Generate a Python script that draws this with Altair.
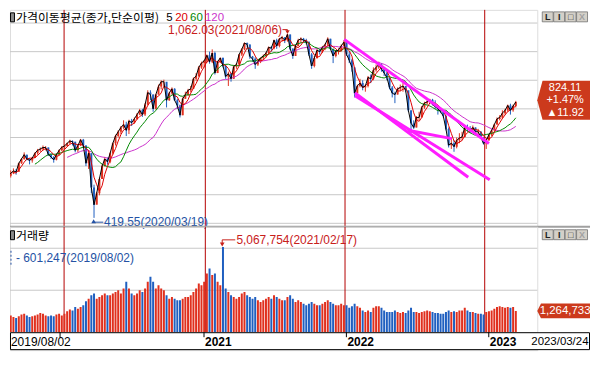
import altair as alt
import pandas as pd

# ---------------- data (weekly) ----------------
first_open = 600
close_2019 = [585, 566, 575, 583, 580, 610, 625, 640, 625, 620, 628, 645, 655, 660, 665, 665, 640, 632, 622, 640, 655, 666]
high_2019 = [595, 590, 585, 592, 590, 612, 628, 648, 640, 628, 632, 648, 660, 665, 672, 670, 665, 645, 635, 645, 658, 670]
low_2019 = [560, 540, 560, 572, 570, 580, 608, 622, 620, 606, 612, 628, 640, 650, 655, 655, 636, 625, 612, 620, 638, 652]

close_2020 = [670, 680, 688, 685, 655, 672, 692, 672, 610, 645, 525, 465, 505, 555, 600, 625, 615,
              645, 680, 705, 720, 735, 745, 725, 758, 752, 765, 780, 795, 780, 815, 857, 850, 800, 850,
              878, 895, 895, 830, 855, 870, 830, 812, 778, 835, 850, 865, 870, 905, 915, 945, 960]
high_2020 = [675, 682, 692, 690, 685, 675, 695, 695, 672, 655, 645, 535, 510, 560, 605, 632, 630,
             648, 682, 710, 725, 740, 760, 755, 762, 765, 770, 785, 800, 800, 820, 865, 865, 850, 852,
             885, 900, 902, 890, 860, 875, 872, 835, 815, 840, 860, 870, 880, 910, 925, 950, 965]
low_2020 = [660, 668, 678, 672, 648, 648, 670, 665, 600, 590, 505, 419, 468, 498, 555, 598, 605,
            610, 640, 672, 700, 712, 730, 705, 712, 740, 748, 762, 778, 772, 775, 812, 830, 790, 798,
            850, 868, 880, 805, 828, 850, 828, 800, 770, 778, 835, 845, 858, 870, 898, 912, 940]

close_2021 = [968, 987, 965, 995, 925, 965, 978, 950, 913, 923, 905, 948, 955, 990, 1008, 1030, 1025, 983,
              975, 955, 965, 978, 985, 995, 1015, 1012, 1040, 1020, 1045, 1050, 1040, 1060, 1010, 985, 1020,
              1040, 1045, 1040, 1035, 990, 950, 978, 1005, 1000, 1015, 1025, 1045, 1010, 985, 1002, 1005, 1020, 1033]
high_2021 = [970, 990, 1000, 1008, 1000, 968, 980, 980, 955, 930, 925, 952, 960, 992, 1012, 1032, 1032, 1025,
             985, 980, 970, 980, 990, 998, 1018, 1020, 1042, 1045, 1048, 1055, 1050, 1062, 1060, 1012, 1022,
             1045, 1050, 1048, 1045, 1035, 995, 985, 1010, 1010, 1020, 1028, 1050, 1045, 1010, 1005, 1012, 1025, 1040]
low_2021 = [945, 960, 958, 960, 920, 925, 960, 945, 905, 880, 895, 905, 940, 955, 985, 1005, 1015, 975,
            965, 940, 950, 960, 970, 980, 990, 1000, 1008, 1010, 1015, 1035, 1030, 1035, 1005, 975, 985,
            1018, 1030, 1032, 1025, 985, 940, 945, 975, 990, 995, 1005, 1020, 1005, 960, 980, 990, 1000, 1018]

close_2022 = [990, 970, 945, 855, 880, 890, 875, 880, 910, 905, 935, 945, 955, 940, 925, 910, 875,
              855, 850, 870, 875, 880, 865, 795, 750, 735, 770, 770, 805, 820, 825, 832, 815, 808,
              800, 790, 775, 730, 673, 680, 668, 690, 698, 702, 735, 732, 725, 735, 720, 720, 700, 679]
high_2022 = [1040, 1000, 975, 945, 885, 905, 900, 885, 915, 920, 945, 955, 965, 960, 945, 930, 905,
             880, 860, 875, 885, 890, 880, 860, 760, 760, 775, 790, 810, 825, 830, 835, 835, 830,
             808, 805, 795, 778, 735, 700, 690, 700, 715, 720, 740, 745, 740, 742, 735, 730, 722, 700]
low_2022 = [985, 960, 930, 840, 855, 875, 865, 860, 875, 890, 900, 930, 940, 930, 915, 900, 868,
            840, 820, 850, 862, 860, 858, 790, 715, 730, 735, 760, 780, 800, 815, 820, 812, 800,
            780, 785, 770, 725, 665, 660, 650, 662, 680, 690, 700, 720, 715, 718, 712, 708, 695, 675]

close_2023 = [690, 710, 725, 745, 765, 770, 785, 795, 812, 795, 810, 824]
high_2023 = [695, 712, 728, 748, 770, 778, 795, 800, 815, 818, 815, 828]
low_2023 = [660, 688, 705, 720, 745, 760, 765, 780, 790, 780, 790, 805]

# volume, millions of shares (typical daily level of each week)
vol_2019 = [0.60, 1.1, 1.0, 0.9, 0.85, 0.95, 1.05, 1.1, 1.0, 0.9, 0.95, 1.0, 1.05, 1.15, 1.1, 1.0, 0.95, 1.0, 0.95, 1.05, 1.1, 1.0]
vol_2020 = [1.1, 1.25, 1.35, 1.3, 1.5, 1.4, 1.5, 1.6, 1.85, 2.0, 2.2, 2.3, 2.0, 2.1, 2.2, 2.3, 2.2,
            2.2, 2.3, 2.4, 2.5, 2.3, 2.6, 3.0, 2.6, 2.3, 2.2, 2.3, 2.5, 2.4, 2.6, 3.0, 3.3, 3.0, 2.6,
            2.8, 2.6, 2.5, 2.2, 2.0, 2.1, 2.0, 1.9, 1.9, 2.0, 2.1, 2.1, 2.2, 2.4, 2.6, 2.9, 2.8]
vol_2021 = [3.0, 3.5, 3.8, 3.4, 3.5, 3.0, 2.8, 5.07, 2.6, 2.4, 2.2, 2.1, 2.0, 2.1, 2.3, 2.4, 2.2, 2.1,
            2.0, 2.1, 1.9, 1.8, 1.9, 2.0, 2.1, 2.0, 2.2, 2.1, 2.0, 1.9, 1.9, 2.1, 2.2, 2.0, 1.8,
            1.9, 1.8, 1.7, 1.6, 1.7, 1.8, 1.7, 1.6, 1.6, 1.7, 1.8, 1.9, 1.8, 1.7, 1.6, 1.6, 1.7, 1.6]
vol_2022 = [1.6, 1.45, 1.55, 1.7, 1.55, 1.45, 1.3, 1.2, 1.3, 1.2, 1.45, 1.55, 1.55, 1.45, 1.3, 1.2, 1.2,
            1.2, 1.3, 1.2, 1.15, 1.2, 1.15, 1.3, 1.45, 1.2, 1.2, 1.15, 1.2, 1.25, 1.3, 1.25, 1.2, 1.15,
            1.15, 1.1, 1.1, 1.2, 1.3, 1.2, 1.25, 1.2, 1.3, 1.3, 1.45, 1.3, 1.2, 1.2, 1.15, 1.1, 1.1, 1.05]
vol_2023 = [1.2, 1.25, 1.3, 1.4, 1.5, 1.55, 1.5, 1.45, 1.5, 1.45, 1.5, 1.264733]

year_starts = ["2020-01-02", "2021-01-04", "2022-01-03", "2023-01-02"]
year_labels = ["2020", "2021", "2022", "2023"]
year_show = [False, True, True, True]

# magenta trend lines (segment id, date, price)
trend_seg = ["A", "A", "B1", "B1", "B2", "B2", "C", "C"]
trend_date = ["2022-01-01", "2023-01-13", "2022-01-29", "2022-11-20", "2022-01-29", "2023-01-15", "2022-06-16", "2022-10-08"]
trend_price = [1043, 679, 856, 561, 846, 552, 725, 696]

price_grid = [400, 500, 600, 700, 800, 900, 1000, 1100]
price_ticks = list(range(400, 1101, 50))
vol_grid = [2500000, 5000000]
vol_ticks = [1250000, 2500000, 3750000, 5000000, 6250000]

last_lines = ["824.11", "+1.47%", "\u25b211.92"]
last_box_center = 830
vol_last_text = "1,264,733"
vol_last_value = 1264733
btn_glyphs = ["L", "I", "\u25a1", "X"]

# ---------------- styling ----------------
W, HP, HV, HD = 530, 218, 106, 18
RA = 53  # room right of the plot
NUM = "Liberation Sans, Arial, sans-serif"
KR = "Noto Sans CJK KR, sans-serif"
RED_UP, BLUE_DN = "#e0301e", "#1f5fc0"
YEAR_LINE, GRID = "#b40000", "#c8c8c8"
MA_C = {"5": "#000000", "20": "#dd0000", "60": "#008800", "120": "#cc33cc"}
TREND = "#ff1eff"
ANN_RED, ANN_BLUE, BOX_RED = "#c8201a", "#2452a4", "#cc3a1c"

dates = list(pd.date_range("2019-08-02", "2023-03-24", freq="W-FRI"))
close = close_2019 + close_2020 + close_2021 + close_2022 + close_2023
high = high_2019 + high_2020 + high_2021 + high_2022 + high_2023
low = low_2019 + low_2020 + low_2021 + low_2022 + low_2023
vol = vol_2019 + vol_2020 + vol_2021 + vol_2022 + vol_2023
n = min(len(dates), len(close), len(high), len(low), len(vol))
dates, close, high, low, vol = dates[:n], close[:n], high[:n], low[:n], vol[:n]
opens = [first_open] + close[:-1]
df = pd.DataFrame({
    "date": dates, "open": opens, "close": close, "high": high, "low": low,
    "vol": [v * 1e6 for v in vol],
    "dir": ["up" if c >= o else "down" for o, c in zip(opens, close)],
})

XS = alt.Scale(domain=[alt.DateTime(year=2019, month=8, date=27), alt.DateTime(year=2023, month=5, date=6)])


def X(f="date"):
    return alt.X(f"{f}:T", scale=XS, axis=None)


PS = alt.Scale(domain=[388, 1146], nice=False, zero=False)
VS = alt.Scale(domain=[0, 6.28e6], nice=False, zero=True)
DIR = alt.Color("dir:N", scale=alt.Scale(domain=["up", "down"], range=[RED_UP, BLUE_DN]), legend=None)

axis_common = dict(orient="right", grid=False, domainColor="#404040", tickColor="#404040", tickSize=3,
                   labelFont=NUM, labelFontSize=11, labelColor="#000000", labelPadding=1,
                   labelFlush=False, labelOverlap=False, title=None)
price_axis = alt.Axis(values=price_ticks,
                      labelExpr="datum.value % 100 == 0 && datum.value <= 1000 ? format(datum.value, ',.2f') : ''",
                      **axis_common)
vol_axis = alt.Axis(values=vol_ticks,
                    labelExpr="(datum.value == 2500000 || datum.value == 5000000) ? format(datum.value, ',d') : ''",
                    **axis_common)

one = lambda **kw: alt.Chart(pd.DataFrame({k: [v] for k, v in kw.items()} if kw else {"a": [0]}))
years_df = pd.DataFrame({"d": pd.to_datetime(year_starts), "lab": year_labels, "show": year_show})


def buttons(top):
    out = []
    for i, g in enumerate(btn_glyphs):
        x0 = W + 5 + i * 11.5
        c = one(g=g)
        out.append(c.mark_rect(fill="#d4d0c8", stroke="#707070", strokeWidth=0.8).encode(
            x=alt.value(x0), x2=alt.value(x0 + 11), y=alt.value(top), y2=alt.value(top + 10)))
        out.append(c.mark_text(fontSize=9, fontWeight="bold", font=NUM,
                               color="#a0a0a0" if g == "X" else "#202020").encode(
            x=alt.value(x0 + 5.5), y=alt.value(top + 5.5), text="g:N"))
    return out


# ---------------- price panel ----------------
base = alt.Chart(df)
grid_p = alt.Chart(pd.DataFrame({"v": price_grid})).mark_rule(color=GRID, strokeWidth=1).encode(
    y=alt.Y("v:Q", scale=PS, axis=price_axis))
yr_p = alt.Chart(years_df).mark_rule(color=YEAR_LINE, strokeWidth=1).encode(x=X("d"))
wick = base.mark_rule(strokeWidth=1, clip=True).encode(
    x=X(), y=alt.Y("low:Q", scale=PS, axis=None), y2="high:Q", color=DIR)
body = base.mark_bar(size=2, clip=True).encode(
    x=X(), y=alt.Y("open:Q", scale=PS, axis=None), y2="close:Q", color=DIR)


def ma(k, col):
    return base.transform_window(
        ma="mean(close)", cnt="count()", frame=[-(k - 1), 0], sort=[alt.SortField("date")]
    ).transform_filter(f"datum.cnt >= {k}").mark_line(color=col, strokeWidth=1, clip=True).encode(
        x=X(), y=alt.Y("ma:Q", scale=PS, axis=None))


ma5 = base.mark_line(color=MA_C["5"], strokeWidth=1, clip=True).encode(
    x=X(), y=alt.Y("close:Q", scale=PS, axis=None))
ma20 = ma(4, MA_C["20"])
ma60 = ma(12, MA_C["60"])
ma120 = ma(24, MA_C["120"])

trend_df = pd.DataFrame({"seg": trend_seg, "d": pd.to_datetime(trend_date), "p": trend_price})
trend = alt.Chart(trend_df).mark_line(color=TREND, strokeWidth=3, clip=True).encode(
    x=X("d"), y=alt.Y("p:Q", scale=PS, axis=None), detail="seg:N")

# title
icon_p = one().mark_rect(fill="#8a8a8a", stroke="#000000", strokeWidth=1).encode(
    x=alt.value(0.5), x2=alt.value(4.5), y=alt.value(3), y2=alt.value(12))
title_p = one(t="가격이동평균(종가,단순이평)").mark_text(align="left", baseline="middle", font=KR, fontSize=12,
                                                color="#000000").encode(x=alt.value(6), y=alt.value(8.5), text="t:N")
title_nums = []
for txt, xx, col in [("5", 157, MA_C["5"]), ("20", 166, MA_C["20"]), ("60", 181, MA_C["60"]), ("120", 196, MA_C["120"])]:
    title_nums.append(one(t=txt).mark_text(align="left", baseline="middle", font=NUM, fontSize=11.5, color=col).encode(
        x=alt.value(xx), y=alt.value(8), text="t:N"))

# peak annotation
peak_txt = one(d=pd.Timestamp("2021-07-23"), p=1077, t="1,062.03(2021/08/06)").mark_text(
    align="right", baseline="middle", font=NUM, fontSize=12, color=ANN_RED).encode(
    x=X("d"), y=alt.Y("p:Q", scale=PS, axis=None), text="t:N")
peak_line = alt.Chart(pd.DataFrame({"i": [0, 1, 2],
                                    "d": pd.to_datetime(["2021-07-24", "2021-08-06", "2021-08-06"]),
                                    "p": [1077, 1077, 1071]})).mark_line(color=ANN_RED, strokeWidth=1).encode(
    x=X("d"), y=alt.Y("p:Q", scale=PS, axis=None), order="i:O")
peak_tri = one(d=pd.Timestamp("2021-08-06"), p=1068).mark_point(shape="triangle-down", filled=True, size=20,
                                                                 color=ANN_RED, opacity=1).encode(
    x=X("d"), y=alt.Y("p:Q", scale=PS, axis=None))

# low annotation
low_txt = one(d=pd.Timestamp("2020-04-15"), p=404, t="419.55(2020/03/19)").mark_text(
    align="left", baseline="middle", font=NUM, fontSize=12, color=ANN_BLUE).encode(
    x=X("d"), y=alt.Y("p:Q", scale=PS, axis=None), text="t:N")
low_line = alt.Chart(pd.DataFrame({"d": pd.to_datetime(["2020-03-19", "2020-04-13"]), "p": [404, 404]})).mark_line(
    color=ANN_BLUE, strokeWidth=1).encode(x=X("d"), y=alt.Y("p:Q", scale=PS, axis=None))
low_tri = one(d=pd.Timestamp("2020-03-19"), p=407).mark_point(shape="triangle-up", filled=True, size=22,
                                                               color=ANN_BLUE, opacity=1).encode(
    x=X("d"), y=alt.Y("p:Q", scale=PS, axis=None))

# last price box
PENT = "M -1 0 L -0.8 -0.74 L 1 -0.74 L 1 0.74 L -0.8 0.74 Z"
pbox = one(p=last_box_center).mark_point(shape=PENT, filled=True, size=RA * RA, color=BOX_RED, opacity=1,
                                         strokeWidth=0).encode(
    x=alt.value(W + RA / 2), y=alt.Y("p:Q", scale=PS, axis=None))
ptexts = []
for j, s in enumerate(last_lines):
    ptexts.append(one(p=last_box_center, t=s).mark_text(align="center", baseline="middle", font=NUM, fontSize=11,
                                                        color="#ffffff", dy=(j - 1) * 12.5).encode(
        x=alt.value(W + RA / 2 + 1.5), y=alt.Y("p:Q", scale=PS, axis=None), text="t:N"))

sep_p = one().mark_rule(color="#a0a0a0", strokeWidth=2).encode(
    x=alt.value(0), x2=alt.value(W + RA), y=alt.value(HP))

price = alt.layer(grid_p, yr_p, wick, body, ma120, ma60, ma20, ma5, trend,
                  icon_p, title_p, *title_nums, peak_line, peak_tri, peak_txt, low_line, low_tri, low_txt,
                  pbox, *ptexts, sep_p, *buttons(2)).properties(width=W, height=HP)

# ---------------- volume panel ----------------
grid_v = alt.Chart(pd.DataFrame({"v": vol_grid})).mark_rule(color=GRID, strokeWidth=1).encode(
    y=alt.Y("v:Q", scale=VS, axis=vol_axis))
yr_v = alt.Chart(years_df).mark_rule(color=YEAR_LINE, strokeWidth=1).encode(x=X("d"))
vbars = base.mark_bar(size=2, clip=True).encode(x=X(), y=alt.Y("vol:Q", scale=VS, axis=None), color=DIR)

icon_v = one().mark_rect(fill="#8a8a8a", stroke="#000000", strokeWidth=1).encode(
    x=alt.value(0.5), x2=alt.value(4.5), y=alt.value(4), y2=alt.value(13))
title_v = one(t="거래량").mark_text(align="left", baseline="middle", font=KR, fontSize=12, color="#000000").encode(
    x=alt.value(6), y=alt.value(9), text="t:N")
min_txt = one(v=4.39e6, t="- 601,247(2019/08/02)").mark_text(align="left", baseline="middle", font=NUM,
                                                            fontSize=12, color=ANN_BLUE).encode(
    x=alt.value(6), y=alt.Y("v:Q", scale=VS, axis=None), text="t:N")
min_dash = one(a=4.85e6, b=3.95e6).mark_rule(color=ANN_BLUE, strokeDash=[2, 2], strokeWidth=1).encode(
    x=alt.value(1), y=alt.Y("a:Q", scale=VS, axis=None), y2="b:Q")

vmax_txt = one(d=pd.Timestamp("2021-03-26"), v=5.5e6, t="5,067,754(2021/02/17)").mark_text(
    align="left", baseline="middle", font=NUM, fontSize=12, color=ANN_RED).encode(
    x=X("d"), y=alt.Y("v:Q", scale=VS, axis=None), text="t:N")
vmax_line = alt.Chart(pd.DataFrame({"i": [0, 1, 2],
                                    "d": pd.to_datetime(["2021-03-23", "2021-02-17", "2021-02-17"]),
                                    "v": [5.5e6, 5.5e6, 5.3e6]})).mark_line(color=ANN_RED, strokeWidth=1).encode(
    x=X("d"), y=alt.Y("v:Q", scale=VS, axis=None), order="i:O")
vmax_tri = one(d=pd.Timestamp("2021-02-17"), v=5.22e6).mark_point(shape="triangle-down", filled=True, size=22,
                                                                   color=ANN_RED, opacity=1).encode(
    x=X("d"), y=alt.Y("v:Q", scale=VS, axis=None))

PENT2 = "M -1 0 L -0.86 -0.28 L 1 -0.28 L 1 0.28 L -0.86 0.28 Z"
vbox = one(v=vol_last_value).mark_point(shape=PENT2, filled=True, size=RA * RA, color=BOX_RED, opacity=1,
                                        strokeWidth=0).encode(
    x=alt.value(W + RA / 2), y=alt.Y("v:Q", scale=VS, axis=None))
vbox_t = one(v=vol_last_value, t=vol_last_text).mark_text(align="center", baseline="middle", font=NUM, fontSize=11.5,
                                                          color="#ffffff").encode(
    x=alt.value(W + RA / 2 + 1.5), y=alt.Y("v:Q", scale=VS, axis=None), text="t:N")

volume = alt.layer(grid_v, yr_v, vbars, icon_v, title_v, min_dash, min_txt, vmax_line, vmax_tri, vmax_txt,
                   vbox, vbox_t, *buttons(3)).properties(width=W, height=HV)

# ---------------- date strip ----------------
frame = one().mark_rect(fill="#ffffff", stroke="#000000", strokeWidth=1).encode(
    x=alt.value(0.5), x2=alt.value(W + RA - 0.5), y=alt.value(0.5), y2=alt.value(HD - 0.5))
ticks_d = alt.Chart(years_df).mark_rule(color="#000000", strokeWidth=1).encode(
    x=X("d"), y=alt.value(0), y2=alt.value(5))
ylabels = alt.Chart(years_df).transform_filter("datum.show").mark_text(
    align="left", baseline="middle", font=NUM, fontSize=12, fontWeight="bold", color="#000000", dx=1).encode(
    x=X("d"), y=alt.value(HD / 2 + 1), text="lab:N")
first_lab = one(t="2019/08/02").mark_text(align="left", baseline="middle", font=NUM, fontSize=12,
                                          color="#000000").encode(x=alt.value(1), y=alt.value(HD / 2 + 1), text="t:N")
last_lab = one(t="2023/03/24").mark_text(align="right", baseline="middle", font=NUM, fontSize=11.5,
                                         color="#000000").encode(x=alt.value(W + RA - 1.5), y=alt.value(HD / 2 + 1),
                                                                 text="t:N")
datep = alt.layer(frame, ticks_d, ylabels, first_lab, last_lab).properties(width=W, height=HD)

chart = alt.vconcat(price, volume, datep, spacing=0, bounds="flush", padding=0).configure_view(
    stroke=None).configure(background="#ffffff")

chart.save("out.html", embed_options={"renderer": "svg", "actions": False})
